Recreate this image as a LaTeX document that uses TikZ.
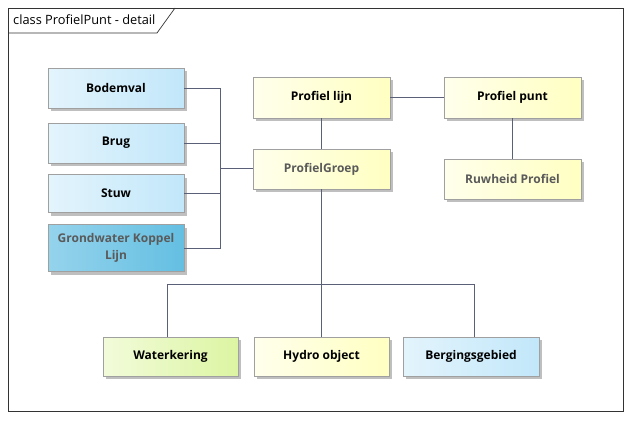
\documentclass[tikz,border=0pt]{standalone}
\usepackage{fontspec}
\setmainfont{Open Sans}
\usetikzlibrary{shadows}
\definecolor{bordergray}{HTML}{A0A0A0}
\definecolor{linecol}{HTML}{5A6078}
\definecolor{yelL}{HTML}{FFFFEC}
\definecolor{yelR}{HTML}{FFFFC2}
\definecolor{bluL}{HTML}{E3F4FC}
\definecolor{bluR}{HTML}{C2E7FA}
\definecolor{grnL}{HTML}{F2FBDA}
\definecolor{grnR}{HTML}{DCF5A2}
\definecolor{dbluL}{HTML}{95D3EC}
\definecolor{dbluR}{HTML}{64BFE2}
\definecolor{txtgray}{HTML}{5A5A5A}
\tikzset{
  cls/.style={draw=bordergray, line width=0.8pt, shading=axis, shading angle=90,
    minimum width=136pt, minimum height=40pt, inner sep=2pt, align=center,
    font=\fontsize{12}{17}\selectfont\bfseries,
    drop shadow={shadow xshift=3pt, shadow yshift=-3pt, fill=black!25, opacity=1}},
  yel/.style={cls, left color=yelL, right color=yelR},
  blu/.style={cls, left color=bluL, right color=bluR},
  grn/.style={cls, left color=grnL, right color=grnR},
  dblu/.style={cls, left color=dbluL, right color=dbluR},
  grayt/.style={text=txtgray},
  conn/.style={draw=linecol, line width=0.9pt},
  framel/.style={draw=black!80, line width=0.7pt}
}
\begin{document}
\begin{tikzpicture}[x=1pt,y=-1pt]
\useasboundingbox[fill=white] (0,0) rectangle (631,420);
\draw[framel] (8,8) rectangle (623,411);
\draw[framel] (8,33) -- (157,33) -- (175,8);
\node[anchor=base west, font=\fontsize{12.8}{14}\selectfont, inner sep=0] (title) at (13,25) {class ProfielPunt - detail};

\node[blu] (bod) at (116,88) {Bodemval};
\node[blu] (brug) at (116,143) {Brug};
\node[blu, minimum height=38pt] (stuw) at (116,193.5) {Stuw};
\node[dblu, grayt, minimum height=47pt] (gw) at (116,248) {Grondwater Koppel\\Lijn};

\node[yel, minimum width=137pt, minimum height=41pt] (pl) at (321.5,97.5) {Profiel lijn};
\node[yel, grayt, minimum width=137pt] (pg) at (321.5,169) {ProfielGroep};
\node[yel, minimum width=137pt, minimum height=41pt] (pp) at (512.5,97.5) {Profiel punt};
\node[yel, grayt, minimum width=137pt] (rp) at (512.5,179) {Ruwheid Profiel};

\node[grn, minimum width=135pt, minimum height=39pt] (wk) at (170.5,356.5) {Waterkering};
\node[yel, minimum width=135pt, minimum height=39pt] (ho) at (321.5,356.5) {Hydro object};
\node[blu, minimum height=39pt] (bg) at (471,356.5) {Bergingsgebied};

\coordinate (j) at (220,168);
\coordinate (k) at (321.5,284);

\draw[conn] (bod.east) -| (j);
\draw[conn] (gw.east) -| (j);
\draw[conn] (brug.east) -- (brug.east -| j);
\draw[conn] (stuw.east) -- (stuw.east -| j);
\draw[conn] (j) -- (j -| pg.west);

\draw[conn] (pl.south) -- (pg.north);
\draw[conn] (pl.east) -- (pp.west);
\draw[conn] (pp.south) -- (rp.north);

\draw[conn] (pg.south) -- (ho.north);
\draw[conn] (k) -| ([xshift=-3.5pt]wk.north);
\draw[conn] (k) -| ([xshift=3pt]bg.north);
\end{tikzpicture}
\end{document}
